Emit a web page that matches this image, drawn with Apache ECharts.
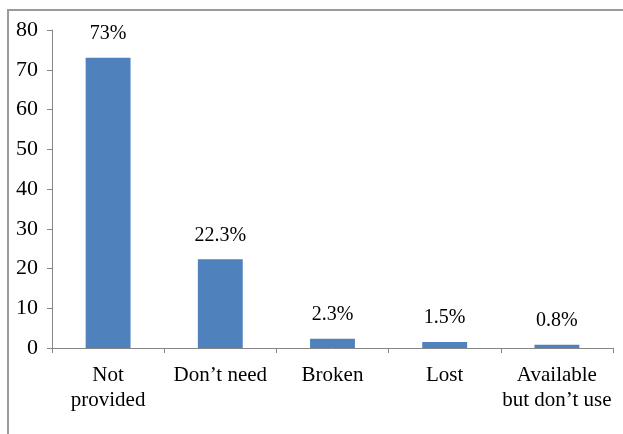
<!DOCTYPE html>
<html>
<head>
<meta charset="utf-8">
<script src="https://cdn.jsdelivr.net/npm/echarts@6/dist/echarts.min.js"></script>
<style>
  html, body { margin: 0; padding: 0; background: #fff; }
  #chart { width: 623px; height: 434px; }
</style>
</head>
<body>
<div id="chart"></div>
<script>
var categories = ["Not\nprovided", "Don\u2019t need", "Broken", "Lost", "Available\nbut don\u2019t use"]
var values = [73, 22.3, 2.3, 1.5, 0.8]
var barLabels = ["73%", "22.3%", "2.3%", "1.5%", "0.8%"]
var yTicks = [0, 10, 20, 30, 40, 50, 60, 70, 80]

var myChart = echarts.init(document.getElementById('chart'))
var font = "'Liberation Serif', 'Times New Roman', serif"

var option = {
    animation: false,
    textStyle: { fontFamily: font },
    grid: { left: 52, right: 10, top: 30, bottom: 86 },
    graphic: [{
        type: 'rect',
        shape: { x: 8, y: 10, width: 800, height: 600 },
        style: { fill: null, stroke: '#9a9a9a', lineWidth: 2 },
        silent: true
    }],
    xAxis: {
        type: 'category',
        data: categories,
        axisLine: { lineStyle: { color: '#868686', width: 1 } },
        axisTick: { show: true, length: 5, lineStyle: { color: '#868686' } },
        axisLabel: {
            color: '#000', fontSize: 21, fontFamily: font,
            margin: 15, lineHeight: 25, interval: 0
        },
        splitLine: { show: false }
    },
    yAxis: {
        type: 'value',
        min: yTicks[0],
        max: yTicks[yTicks.length - 1],
        interval: 10,
        axisLine: { show: true, lineStyle: { color: '#868686', width: 1 } },
        axisTick: { show: true, length: 5, lineStyle: { color: '#868686' } },
        axisLabel: { color: '#000', fontSize: 22, fontFamily: font, margin: 14 },
        splitLine: { show: false }
    },
    series: [{
        type: 'bar',
        data: values,
        barWidth: '40%',
        itemStyle: { color: '#4f81bd' },
        label: {
            show: true,
            position: 'top',
            distance: 14,
            color: '#000',
            fontSize: 20,
            fontFamily: font,
            formatter: function (p) { return barLabels[p.dataIndex] }
        }
    }]
}

myChart.setOption(option)
</script>
</body>
</html>
